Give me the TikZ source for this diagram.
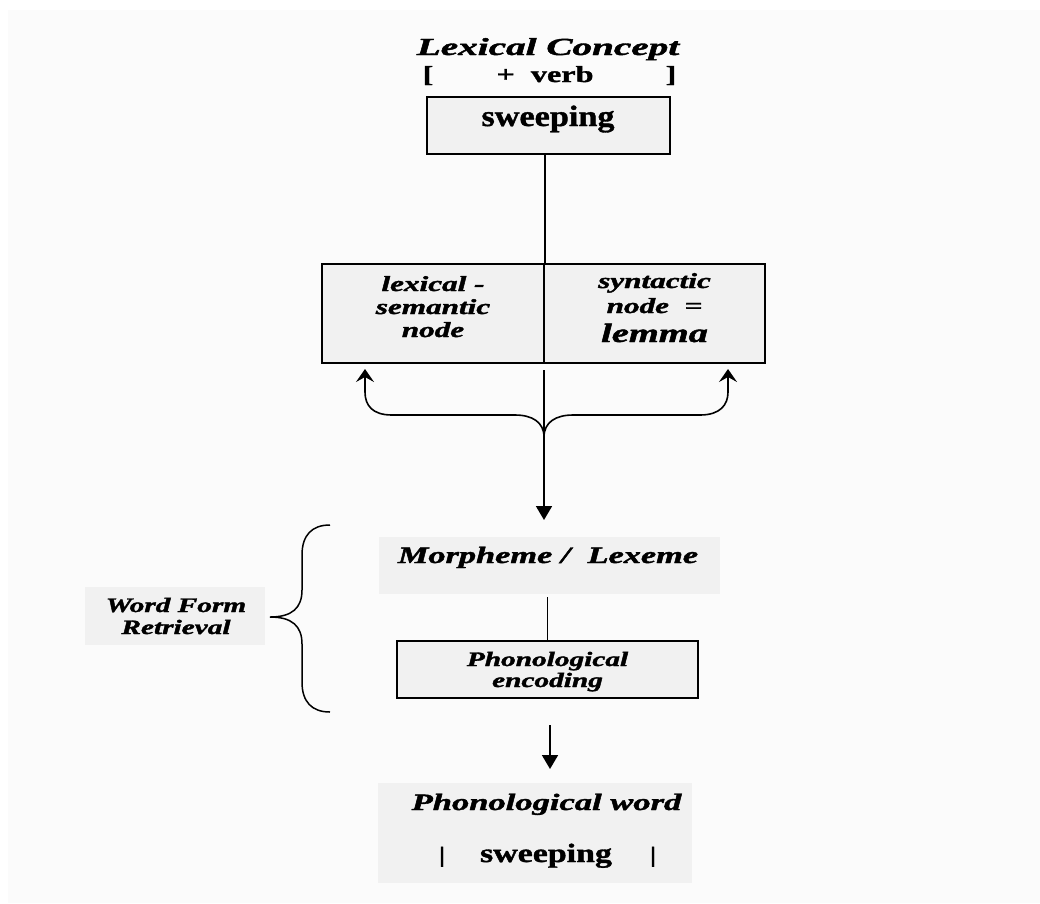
\documentclass[tikz,border=0pt]{standalone}
\usepackage{fontspec}
\setmainfont{Liberation Serif}
\newfontfamily\biF[FakeBold=1.5]{Liberation Serif Bold Italic}
\newfontfamily\buF[FakeBold=1.2]{Liberation Serif Bold}
\usepackage{graphicx}
\usetikzlibrary{arrows.meta}
\definecolor{bgc}{HTML}{FBFBFB}
\definecolor{boxc}{HTML}{F1F1F1}
\newcommand\BI[3]{\scalebox{#1}[1]{\fontsize{#2}{#2}\selectfont\biF #3}}
\newcommand\BU[3]{\scalebox{#1}[1]{\fontsize{#2}{#2}\selectfont\buF #3}}
\tikzset{
  lbl/.style={inner sep=0pt, anchor=base},
  framed/.style={draw=black, line width=1.9pt, fill=boxc, inner sep=0pt},
  plain/.style={fill=boxc, inner sep=0pt},
  conn/.style={line width=1.8pt},
  downarr/.style={line width=1.8pt, -{Triangle[length=14pt,width=16pt]}},
  uparr/.style={line width=1.6pt, -{Stealth[length=13pt,width=18pt,inset=5pt]}},
}
\begin{document}
\begin{tikzpicture}[x=1pt,y=-1pt]
\useasboundingbox (0,0) rectangle (1040,903);
\fill[bgc] (8,10) rectangle (1040,903);

% top
\node[lbl] (lc) at (548,55) {\BI{1.6}{24.5}{Lexical Concept}};
\node[lbl] (lb) at (428,82) {\BU{1.4}{23}{[}};
\node[lbl] (verb) at (545,82) {\BU{1.4}{23}{+\ \ verb}};
\node[lbl] (rb) at (671,82) {\BU{1.4}{23}{]}};

\node[framed, minimum width=243pt, minimum height=57pt] (sw) at (548.5,125.5) {};
\node[lbl] (swt) at (548,126) {\BU{1.16}{29.5}{sweeping}};

% big split box
\node[framed, minimum width=222pt, minimum height=99pt] (ls) at (433,313.5) {};
\node[framed, minimum width=221pt, minimum height=99pt] (rs) at (654.5,313.5) {};
\node[lbl] (l1) at (433,291) {\BI{1.45}{21.5}{lexical -}};
\node[lbl] (l2) at (433,314) {\BI{1.45}{21.5}{semantic}};
\node[lbl] (l3) at (433,337) {\BI{1.45}{21.5}{node}};
\node[lbl] (r1) at (654.5,288) {\BI{1.45}{21.5}{syntactic}};
\node[lbl] (r2) at (654.5,313) {\BI{1.45}{21.5}{node\ \ =}};
\node[lbl] (r3) at (654.5,342) {\BI{1.45}{26.5}{lemma}};

\draw[conn] (sw.south -| ls.north east) -- (ls.north east);

\coordinate (c1) at (544,370);
\coordinate (cusp) at (544,437);
\coordinate (c2) at (544,520);
\draw[downarr] (c1) -- (c2);
\draw[uparr] (cusp) .. controls (544,422) and (532,415) .. (515,415) -- (392,415)
  .. controls (372,415) and (365,405) .. (365,392) -- (365,369);
\draw[uparr] (cusp) .. controls (544,422) and (556,415) .. (573,415) -- (700,415)
  .. controls (720,415) and (728,405) .. (728,392) -- (728,369);

% word form section
\node[plain, minimum width=341pt, minimum height=57pt] (morph) at (549.5,565.5) {};
\node[lbl] (mt) at (548,563) {\BI{1.46}{23.5}{Morpheme /\ \ Lexeme}};

\node[framed, minimum width=301pt, minimum height=57pt] (enc) at (547.5,669.5) {};
\node[lbl] (e1) at (547.5,666) {\BI{1.43}{20.5}{Phonological}};
\node[lbl] (e2) at (547.5,687) {\BI{1.43}{20.5}{encoding}};
\draw[conn] ([yshift=-3pt]morph.south -| enc.north) -- (enc.north);

\node[plain, minimum width=180pt, minimum height=58pt] (wf) at (175,616) {};
\node[lbl] (w1) at (176,612) {\BI{1.43}{20.5}{Word Form}};
\node[lbl] (w2) at (176,634) {\BI{1.43}{20.5}{Retrieval}};

\coordinate (bt) at (330,525);
\coordinate (bc) at (270,617);
\coordinate (bb) at (330,712);
\draw[line width=1.5pt] (bt) .. controls (312,525) and (302,535) .. (302,555) -- (302,590)
  .. controls (302,608) and (292,617) .. (bc)
  .. controls (292,617) and (302,626) .. (302,644) -- (302,682)
  .. controls (302,702) and (312,712) .. (bb);

\coordinate (c3) at (550,725);
\coordinate (c4) at (550,769);
\draw[downarr] (c3) -- (c4);

% phonological word
\node[plain, minimum width=314pt, minimum height=100pt] (pw) at (535,833) {};
\node[lbl] (p1) at (546.5,810) {\BI{1.47}{23.5}{Phonological word}};
\node[lbl] (p2) at (546,862) {\BU{1.28}{26.5}{sweeping}};
\node[lbl] (pb1) at (442,862) {\BU{1.3}{22}{|}};
\node[lbl] (pb2) at (653,862) {\BU{1.3}{22}{|}};
\end{tikzpicture}
\end{document}
